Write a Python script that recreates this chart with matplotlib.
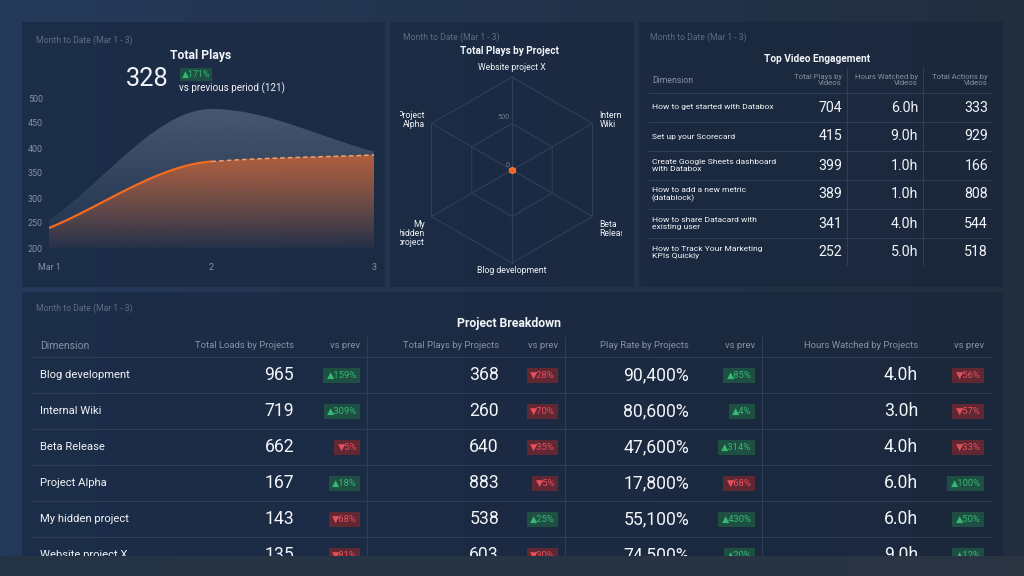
import numpy as np
import matplotlib
matplotlib.use("Agg")
import matplotlib.pyplot as plt
from matplotlib.patches import Rectangle, Polygon
from matplotlib.colors import to_rgb
from matplotlib.transforms import Bbox, TransformedBbox

plt.rcParams['font.family'] = ['Roboto', 'DejaVu Sans']

W, H = 1024, 576

# ---- data ----
days = ['Mar 1', '2', '3']
plays_current = [240, 373, 386]
plays_previous = [256, 478, 393]
total_plays = 328
total_plays_prev = 121
total_plays_change = 171

radar_labels = ['Website project X', 'Internal\nWiki', 'Beta\nRelease',
                'Blog development', 'My\nhidden\nproject', 'Project\nAlpha']
radar_values = [20, 20, 20, 20, 20, 20]
radar_ticks = [500, 1000]

video_names = ['How to get started with Databox', 'Set up your Scorecard',
               'Create Google Sheets dashboard\nwith Databox',
               'How to add a new metric\n(datablock)',
               'How to share Datacard with\nexisting user',
               'How to Track Your Marketing\nKPIs Quickly']
video_plays = [704, 415, 399, 389, 341, 252]
video_hours = [6.0, 9.0, 1.0, 1.0, 4.0, 5.0]
video_actions = [333, 929, 166, 808, 544, 518]

projects = ['Blog development', 'Internal Wiki', 'Beta Release', 'Project Alpha',
            'My hidden project', 'Website project X']
loads = [965, 719, 662, 167, 143, 135]
loads_chg = [159, 309, -5, 18, -68, -81]
plays = [368, 260, 640, 883, 538, 603]
plays_chg = [-28, -70, -35, -5, 25, -30]
play_rate = [90400, 80600, 47600, 17800, 55100, 74500]
play_rate_chg = [85, 4, 314, -68, 430, 20]
hours = [4.0, 3.0, 4.0, 6.0, 6.0, 9.0]
hours_chg = [-56, -57, -33, 100, 50, 12]

# ---- colours ----
WHITE = '#f2f5f8'
MUTED = '#5d6d84'
HEAD = '#8592a5'
GRID = '#2e3f57'
GREEN_FG, GREEN_BG = '#35b873', '#1d4f42'
RED_FG, RED_BG = '#e5505b', '#612732'
ORANGE = '#f26b21'


def smooth(xs, ys, n=120):
    # monotone cubic through the points (just for drawing the spline)
    xs = np.asarray(xs, float); ys = np.asarray(ys, float)
    d = np.diff(ys) / np.diff(xs)
    m = np.zeros_like(ys)
    m[0], m[-1] = d[0], d[-1]
    for i in range(1, len(ys) - 1):
        m[i] = 0 if d[i-1] * d[i] <= 0 else 2 / (1 / d[i-1] + 1 / d[i])
    out_x, out_y = [], []
    for i in range(len(xs) - 1):
        h = xs[i+1] - xs[i]
        t = np.linspace(0, 1, n)
        h00 = 2*t**3 - 3*t**2 + 1; h10 = t**3 - 2*t**2 + t
        h01 = -2*t**3 + 3*t**2; h11 = t**3 - t**2
        out_x.append(xs[i] + t*h)
        out_y.append(h00*ys[i] + h10*h*m[i] + h01*ys[i+1] + h11*h*m[i+1])
    return out_x, out_y


def gradient_area(ax, x, y, base, color, a_top, a_bot, z):
    verts = list(zip(x, y)) + [(x[-1], base), (x[0], base)]
    poly = Polygon(verts, closed=True, fc='none', ec='none', transform=ax.transData)
    ax.add_patch(poly)
    img = np.zeros((200, 1, 4))
    img[:, :, :3] = to_rgb(color)
    img[:, 0, 3] = np.linspace(a_bot, a_top, 200)
    im = ax.imshow(img, aspect='auto', origin='lower', zorder=z,
                   extent=[x[0], x[-1], base, max(y)])
    im.set_clip_path(poly)


fig = plt.figure(figsize=(W / 100, H / 100), dpi=100)
cv = fig.add_axes([0, 0, 1, 1])
cv.axis('off')
g = np.linspace(0, 1, 256)[:, None]
bg = (np.array(to_rgb('#25395a')) * (1 - g) + np.array(to_rgb('#222e3e')) * g)[None, :, :]
cv.imshow(bg, extent=(0, W, H, 0), aspect='auto', zorder=0)
cv.set_xlim(0, W); cv.set_ylim(H, 0)

for x0, y0, x1, y1 in [(22, 22, 385, 287), (390, 22, 634, 287), (639, 22, 1003, 287), (22, 292, 1003, 576)]:
    cv.add_patch(Rectangle((x0, y0), x1 - x0, y1 - y0, fc='#15233a', alpha=0.5, ec='none', zorder=1))


def txt(x, y, s, size, color=WHITE, ha='left', va='center', weight='normal', **kw):
    return cv.text(x, y, s, fontsize=size, color=color, ha=ha, va=va, fontweight=weight, zorder=3, **kw)


def badge(x_right, y, pct, size=6.8):
    up = pct >= 0
    s = ('▲' if up else '▼') + f'{abs(pct)}%'
    txt(x_right - 3.5, y, s, size, color=GREEN_FG if up else RED_FG, ha='right',
        bbox=dict(boxstyle='square,pad=0.35', fc=GREEN_BG if up else RED_BG, ec='none'))


# ---- Total Plays ----
txt(36, 40, 'Month to Date (Mar 1 - 3)', 6.2, MUTED)
txt(201, 56, 'Total Plays', 8.7, weight='bold', ha='center')
txt(147, 79, str(total_plays), 18.3, ha='center')
txt(182, 74.5, f'▲{total_plays_change}%', 6.5, GREEN_FG,
    bbox=dict(boxstyle='square,pad=0.22', fc=GREEN_BG, ec='none'))
txt(179, 88, f'vs previous period ({total_plays_prev})', 7.1)

ax = fig.add_axes([49 / W, 1 - 248 / H, (374 - 49) / W, 150 / H], zorder=2)
ax.patch.set_alpha(0)
xs = np.arange(len(days))
px, py = smooth(xs, plays_previous)
cx, cy = smooth(xs, plays_current)
gradient_area(ax, np.concatenate(px), np.concatenate(py), 200, '#8193ab', 0.42, 0.04, 1)
gradient_area(ax, np.concatenate(cx), np.concatenate(cy), 200, '#e8692a', 0.68, 0.03, 2)
ax.plot(cx[0], cy[0], color=ORANGE, lw=1.6, zorder=3, solid_capstyle='round')
ax.plot(cx[1], cy[1], color='#f3a06e', lw=1.1, ls=(0, (3, 2)), zorder=3)
ax.set_xlim(0, 2); ax.set_ylim(200, 500)
ax.set_xticks(xs, days)
ax.set_yticks(range(200, 501, 50))
ax.tick_params(axis='y', length=0, labelsize=6.4, labelcolor='#8592a5', pad=4.3)
ax.tick_params(axis='x', length=0, labelsize=6.4, labelcolor='#8592a5', pad=10.5)
for s in ax.spines.values():
    s.set_visible(False)

# ---- radar ----
txt(403, 37, 'Month to Date (Mar 1 - 3)', 6.2, MUTED)
txt(510, 51.5, 'Total Plays by Project', 7.2, weight='bold', ha='center')
cxp, cyp, r_px, half = 512, 170, 93, 112
rmax = radar_ticks[-1] * half / r_px
rax = fig.add_axes([(cxp - half) / W, 1 - (cyp + half) / H, 2 * half / W, 2 * half / H],
                   projection='polar', zorder=2)
rax.patch.set_alpha(0)
rax.set_theta_zero_location('N'); rax.set_theta_direction(-1)
rax.set_ylim(0, rmax)
rax.grid(False); rax.set_xticks([]); rax.set_yticks([])
rax.spines['polar'].set_visible(False)
ang = np.linspace(0, 2 * np.pi, len(radar_labels), endpoint=False)
ring = np.append(ang, ang[0])
for r in radar_ticks:
    rax.plot(ring, [r] * len(ring), color=GRID, lw=0.8)
for a in ang:
    rax.plot([a, a], [0, radar_ticks[-1]], color=GRID, lw=0.8)
vals = radar_values + radar_values[:1]
rax.fill(ring, vals, color=ORANGE, alpha=0.6, lw=0)
rax.plot(ring, vals, color=ORANGE, lw=1, marker='o', ms=1.5)
rax.annotate('500', (0, 500), xytext=(-1.5, 1.5), textcoords='offset points', ha='right', va='bottom',
             fontsize=5.2, color='#6b7a90')
rax.annotate('0', (0, 0), xytext=(-2, 1), textcoords='offset points', ha='right', va='bottom',
             fontsize=5.2, color='#6b7a90')
clip = TransformedBbox(Bbox.from_extents(400 / W, 1 - 275 / H, 622 / W, 1 - 58 / H), fig.transFigure)
lab_r = [1097, 1085, 1085, 1035, 1085, 1085]
lab_ha = ['center', 'left', 'left', 'center', 'right', 'right']
lab_va = ['center', 'center', 'top', 'top', 'top', 'center']
for a, lab, r, ha, va in zip(ang, radar_labels, lab_r, lab_ha, lab_va):
    t = rax.text(a, r, lab, fontsize=6.2, color=WHITE, ha=ha, va=va, linespacing=1.0)
    t.set_clip_path(None); t.set_clip_box(clip); t.set_clip_on(True)

# ---- Top Video Engagement ----
txt(650, 37, 'Month to Date (Mar 1 - 3)', 6.2, MUTED)
txt(817, 59.5, 'Top Video Engagement', 7.3, weight='bold', ha='center')
txt(652, 80.5, 'Dimension', 6.2, HEAD)
vcols = [842, 918, 988]
for x, h in zip(vcols, ['Total Plays by\nVideos', 'Hours Watched by\nVideos', 'Total Actions by\nVideos']):
    txt(x, 80, h, 5.6, HEAD, ha='right', linespacing=0.95)
for x in [846.5, 923]:
    cv.plot([x, x], [68, 265], color=GRID, lw=0.7, zorder=2)
row_y = 107.5
for i, name in enumerate(video_names):
    y = row_y + i * 29
    cv.plot([648, 992], [y - 15, y - 15], color=GRID, lw=0.7, zorder=2)
    txt(652, y, name, 6.1, linespacing=1.1)
    txt(vcols[0], y, f'{video_plays[i]}', 10.2, ha='right')
    txt(vcols[1], y, f'{video_hours[i]:.1f}h', 10.2, ha='right')
    txt(vcols[2], y, f'{video_actions[i]}', 10.2, ha='right')

# ---- Project Breakdown ----
txt(36, 308, 'Month to Date (Mar 1 - 3)', 6.2, MUTED)
txt(509, 324, 'Project Breakdown', 8.8, weight='bold', ha='center')
txt(40, 346, 'Dimension', 7.5, HEAD)
val_x = [294, 499, 689, 918]
chg_x = [360.5, 558.5, 755, 984]
heads = ['Total Loads by Projects', 'Total Plays by Projects', 'Play Rate by Projects', 'Hours Watched by Projects']
for vx, cx_, hd in zip(val_x, chg_x, heads):
    txt(vx, 346, hd, 6.8, HEAD, ha='right')
    txt(cx_, 346, 'vs prev', 6.8, HEAD, ha='right')
for x in [366.5, 565, 761.5]:
    cv.plot([x, x], [337, 576], color=GRID, lw=0.7, zorder=2)
cols = [(loads, loads_chg, '{:d}'), (plays, plays_chg, '{:d}'),
        (play_rate, play_rate_chg, '{:,}%'), (hours, hours_chg, '{:.1f}h')]
for i, name in enumerate(projects):
    y = 375 + i * 36
    cv.plot([33, 992], [y - 18.3, y - 18.3], color=GRID, lw=0.7, zorder=2)
    txt(40, y, name, 8.1)
    for (vals_, chg, fmt), vx, cx_ in zip(cols, val_x, chg_x):
        txt(vx, y, fmt.format(vals_[i]), 12.7, ha='right')
        badge(cx_, y + 0.5, chg[i])

# bottom fade band that cuts the table
band = np.linspace(0, 1, 256)[:, None]
bb = (np.array(to_rgb('#253445')) * (1 - band) + np.array(to_rgb('#2b3542')) * band)[None, :, :]
cv.imshow(bb, extent=(0, W, 576, 556.5), aspect='auto', zorder=10)
cv.set_xlim(0, W); cv.set_ylim(H, 0)

fig.savefig('out.png', dpi=100)
